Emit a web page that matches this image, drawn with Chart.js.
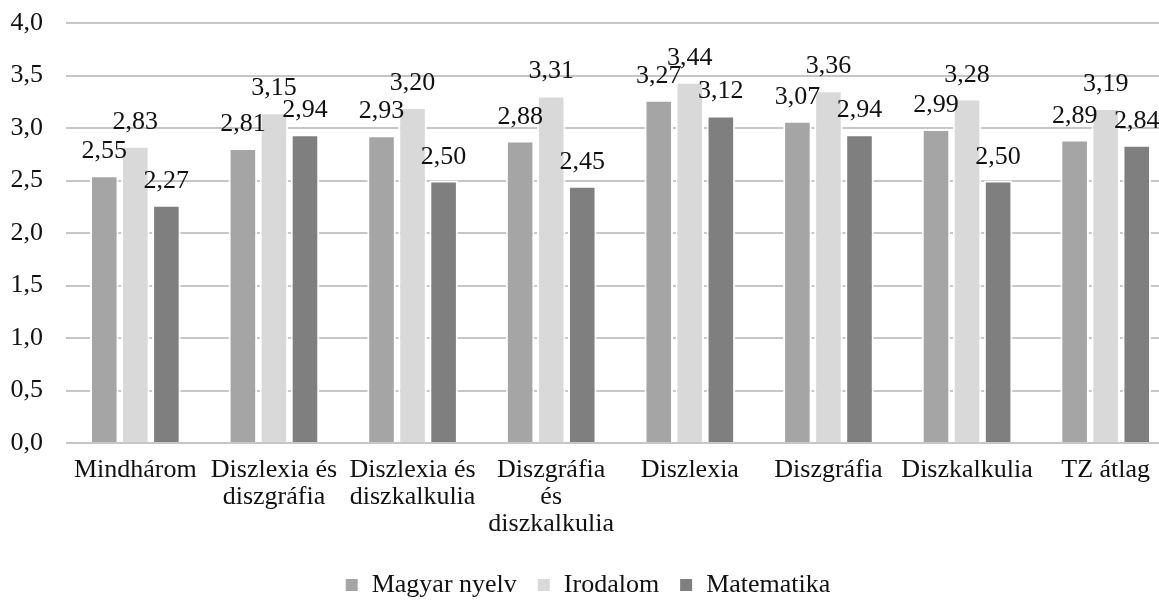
<!DOCTYPE html>
<html lang="hu">
<head>
<meta charset="utf-8">
<title>Tantárgyi átlagok</title>
<script src="https://cdn.jsdelivr.net/npm/chart.js@4/dist/chart.umd.min.js"></script>
<style>
  html, body { margin: 0; padding: 0; background: #fff; }
  #wrap { width: 1159px; height: 600px; overflow: hidden; position: relative; }
  #chart { display: block; }
</style>
</head>
<body>
<div id="wrap">
  <canvas id="chart" width="1175" height="608"></canvas>
</div>
<script>
// Groups on the x axis (multi-line labels as arrays)
const categories = [
  "Mindhárom",
  ["Diszlexia és", "diszgráfia"],
  ["Diszlexia és", "diszkalkulia"],
  ["Diszgráfia", "és", "diszkalkulia"],
  "Diszlexia",
  "Diszgráfia",
  "Diszkalkulia",
  "TZ átlag"
];

const seriesNames = ["Magyar nyelv", "Irodalom", "Matematika"];
const magyarNyelv = [2.55, 2.81, 2.93, 2.88, 3.27, 3.07, 2.99, 2.89];
const irodalom    = [2.83, 3.15, 3.20, 3.31, 3.44, 3.36, 3.28, 3.19];
const matematika  = [2.27, 2.94, 2.50, 2.45, 3.12, 2.94, 2.50, 2.84];

const yTicks = [0, 0.5, 1, 1.5, 2, 2.5, 3, 3.5, 4];

const FONT = "'Liberation Serif', 'Times New Roman', serif";
const TEXT = "#111";

// Hungarian decimal comma
const fmt = (v, d) => v.toFixed(d).replace(".", ",");

// Value labels above each bar
const valueLabels = {
  id: "valueLabels",
  afterDatasetsDraw(chart) {
    const ctx = chart.ctx;
    ctx.save();
    ctx.font = `26px ${FONT}`;
    ctx.fillStyle = TEXT;
    ctx.textAlign = "center";
    ctx.textBaseline = "alphabetic";
    chart.data.datasets.forEach((ds, i) => {
      chart.getDatasetMeta(i).data.forEach((bar, j) => {
        ctx.fillText(fmt(ds.data[j], 2), bar.x, bar.y - 17);
      });
    });
    ctx.restore();
  }
};

new Chart(document.getElementById("chart"), {
  type: "bar",
  data: {
    labels: categories,
    datasets: [
      { label: seriesNames[0], data: magyarNyelv, backgroundColor: "#A5A5A5" },
      { label: seriesNames[1], data: irodalom,    backgroundColor: "#D9D9D9" },
      { label: seriesNames[2], data: matematika,  backgroundColor: "#7F7F7F" }
    ]
  },
  options: {
    responsive: false,
    animation: false,
    layout: { padding: { left: 0, top: 23, right: 0, bottom: 0 } },
    datasets: {
      bar: {
        categoryPercentage: 0.672,
        barPercentage: 0.92,
        borderColor: "#ffffff",
        borderWidth: 2
      }
    },
    plugins: {
      legend: {
        position: "bottom",
        labels: {
          boxWidth: 14,
          boxHeight: 14,
          padding: 20,
          color: TEXT,
          font: { family: FONT, size: 26 }
        }
      },
      tooltip: { enabled: false }
    },
    scales: {
      x: {
        grid: { display: false },
        border: { display: false },
        afterFit(scale) {
          // labels may overhang the plot edges; keep the plot full width
          scale.paddingLeft = 0;
          scale.paddingRight = 0;
          scale.height = 109;
        },
        ticks: {
          color: TEXT,
          padding: 6,
          maxRotation: 0,
          autoSkip: false,
          font: { family: FONT, size: 26, lineHeight: 1.04 }
        }
      },
      y: {
        min: 0,
        max: 4,
        afterBuildTicks(scale) {
          scale.ticks = yTicks.map(v => ({ value: v }));
        },
        afterFit(scale) {
          scale.width = 66;
          scale.paddingTop = 0;
          scale.paddingBottom = 0;
        },
        grid: { color: "#C6C6C6", lineWidth: 2, drawTicks: false },
        border: { display: false },
        ticks: {
          color: TEXT,
          padding: 23,
          font: { family: FONT, size: 26 },
          callback: v => fmt(v, 1)
        }
      }
    }
  },
  plugins: [valueLabels]
});
</script>
</body>
</html>
